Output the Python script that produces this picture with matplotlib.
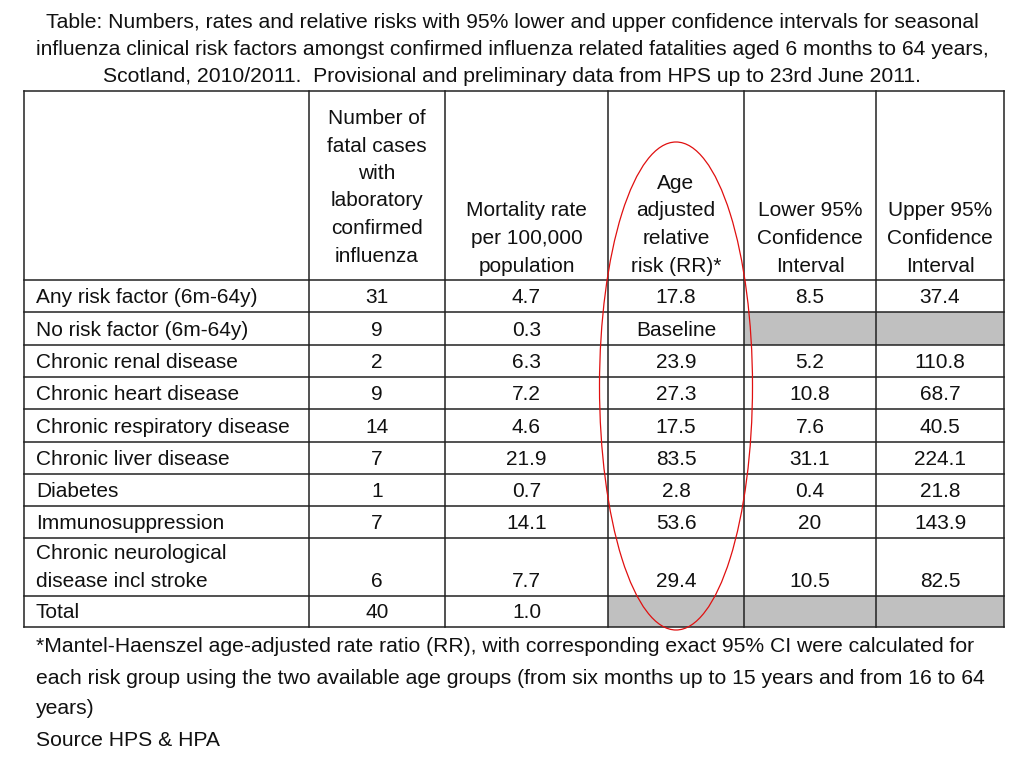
import matplotlib
matplotlib.use("Agg")
import matplotlib.pyplot as plt
from matplotlib.patches import Rectangle, Ellipse

# ---- data ----
title_lines = [
    "Table: Numbers, rates and relative risks with 95% lower and upper confidence intervals for seasonal",
    "influenza clinical risk factors amongst confirmed influenza related fatalities aged 6 months to 64 years,",
    "Scotland, 2010/2011.  Provisional and preliminary data from HPS up to 23rd June 2011.",
]
headers = [
    [],
    ["Number of", "fatal cases", "with", "laboratory", "confirmed", "influenza"],
    ["Mortality rate", "per 100,000", "population"],
    ["Age", "adjusted", "relative", "risk (RR)*"],
    ["Lower 95%", "Confidence", "Interval"],
    ["Upper 95%", "Confidence", "Interval"],
]
row_labels = [
    ["Any risk factor (6m-64y)"],
    ["No risk factor (6m-64y)"],
    ["Chronic renal disease"],
    ["Chronic heart disease"],
    ["Chronic respiratory disease"],
    ["Chronic liver disease"],
    ["Diabetes"],
    ["Immunosuppression"],
    ["Chronic neurological", "disease incl stroke"],
    ["Total"],
]
fatal_cases = ["31", "9", "2", "9", "14", "7", "1", "7", "6", "40"]
mortality_rate = ["4.7", "0.3", "6.3", "7.2", "4.6", "21.9", "0.7", "14.1", "7.7", "1.0"]
relative_risk = ["17.8", "Baseline", "23.9", "27.3", "17.5", "83.5", "2.8", "53.6", "29.4", ""]
lower_ci = ["8.5", "", "5.2", "10.8", "7.6", "31.1", "0.4", "20", "10.5", ""]
upper_ci = ["37.4", "", "110.8", "68.7", "40.5", "224.1", "21.8", "143.9", "82.5", ""]
# shaded (empty) cells: (row index, column index)
shaded = [(1, 4), (1, 5), (9, 3), (9, 4), (9, 5)]
footnote_lines = [
    "*Mantel-Haenszel age-adjusted rate ratio (RR), with corresponding exact 95% CI were calculated for",
    "each risk group using the two available age groups (from six months up to 15 years and from 16 to 64",
    "years)",
    "Source HPS & HPA",
]

# ---- layout (pixel coordinates) ----
col_edges = [24, 309, 445, 608, 744, 876, 1004]
row_edges = [91, 280, 312, 345, 377, 409, 442, 474, 506, 538, 596, 627]
hdr_last_line = [266, 256, 266, 266, 266, 266]
hdr_step = 27.5
body_step = 28

fig = plt.figure(figsize=(10.24, 7.68), dpi=100)
ax = fig.add_axes([0, 0, 1, 1])
ax.set_xlim(0, 1024)
ax.set_ylim(768, 0)
ax.axis("off")

narrow = ["Liberation Sans Narrow", "Liberation Sans", "DejaVu Sans"]
table_font = ["Liberation Sans", "DejaVu Sans"]
fs = 15
tc = "#111111"

# title
for i, t in enumerate(title_lines):
    ax.text(512, 22 + i * 27.5, t, ha="center", va="center", fontsize=15.25,
            family=narrow, color=tc)

# shaded cells
for r, c in shaded:
    y0 = row_edges[r + 1]
    y1 = row_edges[r + 2]
    ax.add_patch(Rectangle((col_edges[c], y0), col_edges[c + 1] - col_edges[c], y1 - y0,
                           facecolor="#c0c0c0", edgecolor="none", zorder=1))

# grid lines
for x in col_edges:
    ax.plot([x, x], [row_edges[0], row_edges[-1]], color="#222222", lw=1.1, zorder=2,
            solid_capstyle="projecting")
for y in row_edges:
    ax.plot([col_edges[0], col_edges[-1]], [y, y], color="#222222", lw=1.1, zorder=2,
            solid_capstyle="projecting")

centers = [(col_edges[i] + col_edges[i + 1]) / 2 for i in range(len(col_edges) - 1)]

# headers (bottom aligned)
for c, lines in enumerate(headers):
    n = len(lines)
    for k, t in enumerate(lines):
        y = hdr_last_line[c] - (n - 1 - k) * hdr_step
        ax.text(centers[c], y, t, ha="center", va="center", fontsize=fs,
                family=table_font, color=tc, zorder=3)

# body
columns = [fatal_cases, mortality_rate, relative_risk, lower_ci, upper_ci]
for r in range(len(row_labels)):
    top, bot = row_edges[r + 1], row_edges[r + 2]
    y_last = bot - 14.5
    labels = row_labels[r]
    n = len(labels)
    for k, t in enumerate(labels):
        y = y_last - (n - 1 - k) * body_step
        ax.text(36, y, t, ha="left", va="center", fontsize=fs, family=table_font,
                color=tc, zorder=3)
    for c, col in enumerate(columns):
        if col[r]:
            ax.text(centers[c + 1], y_last, col[r], ha="center", va="center", fontsize=fs,
                    family=table_font, color=tc, zorder=3)

# red ellipse highlight
ax.add_patch(Ellipse((676, 386), 153, 488, facecolor="none", edgecolor="#e01010",
                     lw=0.9, zorder=4))

# footnotes
for i, t in enumerate(footnote_lines):
    ax.text(36, 647 + i * 31, t, ha="left", va="center", fontsize=15.2, family=narrow,
            color=tc)

fig.savefig("out.png", dpi=100)
